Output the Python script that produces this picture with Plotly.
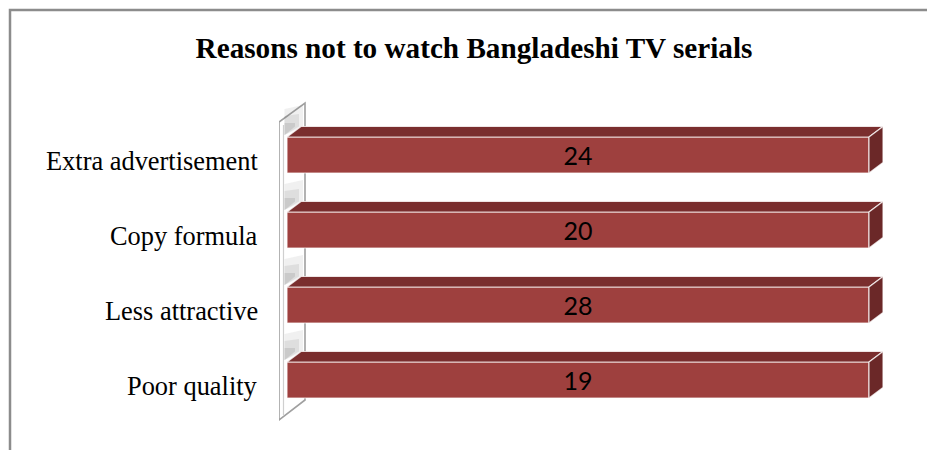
import plotly.graph_objects as go

# Survey answers: why respondents do not watch Bangladeshi TV serials
categories = ["Extra advertisement", "Copy formula", "Less attractive", "Poor quality"]
responses = [24, 20, 28, 19]

title_text = "Reasons not to watch Bangladeshi TV serials"

# ---- layout geometry (pixels) ----
W, H = 927, 450
PLOT_L, PLOT_R, PLOT_T, PLOT_B = 279, 890, 95, 425
X_RANGE = [-1.3746, 103.608]
Y_RANGE = [3.6, -0.8]          # reversed: first category on top
BAR_WIDTH = 0.48
DEPTH_PX = (14, 10.5)          # 3-D extrusion: right / up

FRONT = "#9E403E"
TOP = "#7A2E2E"
SIDE = "#6B2828"
EDGE = "rgba(255,255,255,0.75)"

px_per_x = (PLOT_R - PLOT_L) / (X_RANGE[1] - X_RANGE[0])
px_per_y = (PLOT_B - PLOT_T) / (Y_RANGE[0] - Y_RANGE[1])
ddx = DEPTH_PX[0] / px_per_x
ddy = DEPTH_PX[1] / px_per_y


def px_to_x(px):
    return X_RANGE[0] + (px - PLOT_L) / px_per_x


def px_to_y(py):
    return Y_RANGE[1] + (py - PLOT_T) / px_per_y


def y_to_px(y):
    return PLOT_T + (y - Y_RANGE[1]) * px_per_y


def px_to_paper_x(px):
    return (px - PLOT_L) / (PLOT_R - PLOT_L)


def px_to_paper_y(py):
    return (PLOT_B - py) / (PLOT_B - PLOT_T)


def px_path(points, close=True):
    body = "M " + " L ".join(f"{px_to_x(a)},{px_to_y(b)}" for a, b in points)
    return body + (" Z" if close else "")


positions = list(range(len(categories)))

# 100% stacked bars: with a single series every bar fills its row
totals = {c: v for c, v in zip(categories, responses)}
ends = [100.0 * v / totals[c] for c, v in zip(categories, responses)]

fig = go.Figure()
fig.add_trace(go.Bar(
    y=positions,
    x=responses,
    orientation="h",
    width=BAR_WIDTH,
    marker=dict(color=FRONT, line=dict(color=EDGE, width=1.2)),
    text=[str(v) for v in responses],
    textposition="inside",
    insidetextanchor="middle",
    textfont=dict(family="Lato", size=25, color="black"),
    hoverinfo="skip",
))

shapes = []

# side wall of the 3-D plot area
shapes.append(dict(type="path", xref="x", yref="y", layer="below",
                   path=px_path([(279, 122), (305, 103), (305, 400), (279, 420)]),
                   fillcolor="white", line=dict(color="#A0A0A0", width=1.6)))
shapes.append(dict(type="path", xref="x", yref="y", layer="below",
                   path=px_path([(283.5, 125), (283.5, 415)], close=False),
                   line=dict(color="#CFCFCF", width=1.2)))

# soft shading on the wall just above each bar
for yc in positions:
    yt = y_to_px(yc - BAR_WIDTH / 2)
    for k, alpha in enumerate((0.10, 0.14, 0.18)):
        reach = 28 - 7 * k
        patch = [(284.5, yt - 2), (284.5, yt - reach),
                 (303 - 4 * k, yt - reach - 4 + 2 * k), (303 - 4 * k, yt - DEPTH_PX[1])]
        shapes.append(dict(type="path", xref="x", yref="y", layer="below",
                           path=px_path(patch),
                           fillcolor=f"rgba(110,110,110,{alpha})",
                           line=dict(width=0)))

# top and end faces of each bar
for yc, e in zip(positions, ends):
    y0 = yc - BAR_WIDTH / 2
    y1 = yc + BAR_WIDTH / 2
    top = (f"M 0,{y0} L {e},{y0} L {e + ddx},{y0 - ddy} "
           f"L {ddx},{y0 - ddy} Z")
    side = (f"M {e},{y0} L {e + ddx},{y0 - ddy} L {e + ddx},{y1 - ddy} "
            f"L {e},{y1} Z")
    shapes.append(dict(type="path", path=top, xref="x", yref="y",
                       fillcolor=TOP, line=dict(color=EDGE, width=1.2)))
    shapes.append(dict(type="path", path=side, xref="x", yref="y",
                       fillcolor=SIDE, line=dict(color=EDGE, width=1.2)))

# outer chart frame (top and left edges)
frame = (f"M {px_to_paper_x(10)},{px_to_paper_y(H)} "
         f"L {px_to_paper_x(10)},{px_to_paper_y(10)} "
         f"L {px_to_paper_x(W)},{px_to_paper_y(10)}")
shapes.append(dict(type="path", path=frame, xref="paper", yref="paper",
                   line=dict(color="#8C8C8C", width=2.5)))

annotations = [
    dict(x=0, y=yc, xref="paper", yref="y", text=c, showarrow=False,
         xanchor="right", yanchor="middle", xshift=-19, yshift=-6,
         font=dict(family="Liberation Serif", size=26.4, color="black"))
    for c, yc in zip(categories, positions)
]

fig.update_layout(
    width=W, height=H,
    margin=dict(l=PLOT_L, r=W - PLOT_R, t=PLOT_T, b=H - PLOT_B, pad=0),
    paper_bgcolor="white",
    plot_bgcolor="rgba(0,0,0,0)",
    barmode="stack",
    barnorm="percent",
    showlegend=False,
    title=dict(text=f"<b>{title_text}</b>", x=474 / W, xanchor="center",
               y=1 - 48 / H, yanchor="middle",
               font=dict(family="Liberation Serif", size=29.2, color="black")),
    xaxis=dict(range=X_RANGE, visible=False, fixedrange=True),
    yaxis=dict(range=Y_RANGE, visible=False, fixedrange=True),
    shapes=shapes,
    annotations=annotations,
)

fig.write_html("out.html")
